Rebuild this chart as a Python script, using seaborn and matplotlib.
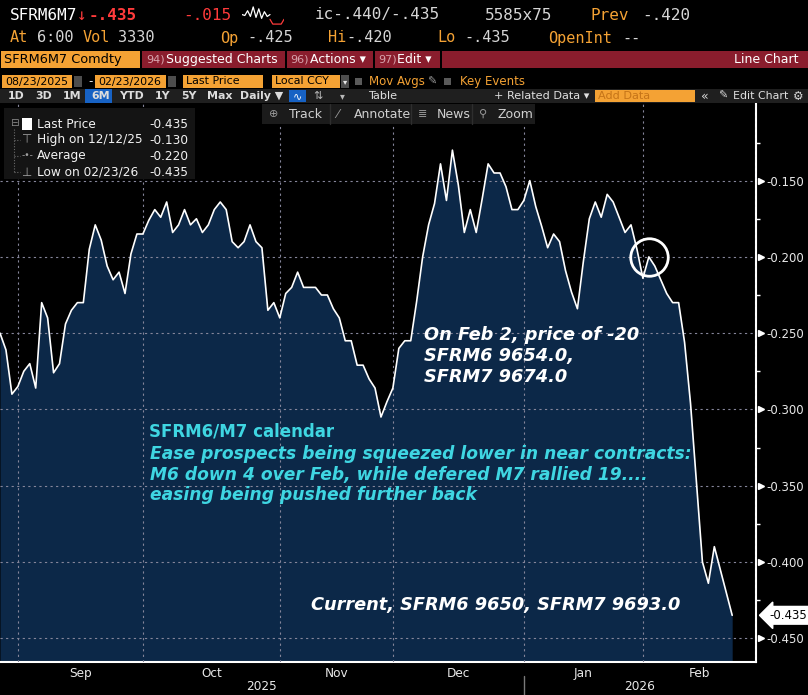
import numpy as np
import pandas as pd
import matplotlib
matplotlib.use("Agg")
import matplotlib.pyplot as plt
import matplotlib.patches as mpatches
from matplotlib.lines import Line2D
from matplotlib.ticker import FormatStrFormatter
import seaborn as sns

W, H = 808, 695

# SFRM6/M7 calendar spread, daily values (one list per month)
aug_vals = [-0.250, -0.261, -0.290, -0.285]
sep_vals = [-0.275, -0.270, -0.286, -0.230, -0.240, -0.276, -0.270, -0.244, -0.235, -0.230,
            -0.230, -0.195, -0.179, -0.189, -0.206, -0.215, -0.210, -0.224, -0.198, -0.185, -0.185]
oct_vals = [-0.176, -0.169, -0.174, -0.164, -0.184, -0.179, -0.169, -0.179, -0.175, -0.184,
            -0.179, -0.169, -0.164, -0.169, -0.190, -0.194, -0.190, -0.179, -0.190, -0.194,
            -0.235, -0.230, -0.240]
nov_vals = [-0.224, -0.220, -0.210, -0.220, -0.220, -0.220, -0.225, -0.225, -0.234, -0.240,
            -0.255, -0.255, -0.271, -0.271, -0.280, -0.286, -0.305, -0.295, -0.286]
dec_vals = [-0.260, -0.255, -0.255, -0.229, -0.200, -0.179, -0.165, -0.139, -0.163, -0.130,
            -0.153, -0.184, -0.169, -0.184, -0.162, -0.139, -0.145, -0.145, -0.154, -0.169,
            -0.169, -0.163]
jan_vals = [-0.150, -0.167, -0.180, -0.194, -0.185, -0.190, -0.209, -0.223, -0.234, -0.203,
            -0.175, -0.164, -0.174, -0.159, -0.164, -0.174, -0.184, -0.179, -0.195, -0.214]
feb_vals = [-0.200, -0.206, -0.215, -0.224, -0.230, -0.230, -0.256, -0.296, -0.348, -0.400,
            -0.414, -0.390, -0.405, -0.420, -0.435]

# trading calendar of the x axis (axis runs to the end of Feb)
first_day, last_axis_day = "2025-08-26", "2026-02-27"
holidays = ["2025-09-01", "2025-11-27", "2025-12-25", "2026-01-01", "2026-01-19", "2026-02-16"]

month_labels = ["Sep", "Oct", "Nov", "Dec", "Jan", "Feb"]
year_labels = ["2025", "2026"]
major_ticks = [-0.150, -0.200, -0.250, -0.300, -0.350, -0.400, -0.450]
minor_ticks = [-0.125, -0.175, -0.225, -0.275, -0.325, -0.375, -0.425]
y_range = (-0.4653, -0.0991)

legend_labels = ["Last Price", "High on 12/12/25", "Average", "Low on 02/23/26"]
legend_values = ["-0.435", "-0.130", "-0.220", "-0.435"]
circled_day = "2026-02-02"

spark_white = [0.55, 0.5, 0.75, 0.45, 0.95, 0.4, 0.85, 0.35, 0.7, 0.45, 0.55]
spark_red = [0.3, 0.05, 0.05, 0.05, 0.05, 0.3]

ORANGE = "#f4a234"
WHITE = "#e8e8e8"
RED = "#ff3b3b"
NAVY = "#0c2848"
CYAN = "#3fd6e2"
MAROON = "#8a1d2d"
MONO = "DejaVu Sans Mono"

# ---- data frame on a trading-day axis
days = pd.bdate_range(first_day, last_axis_day)
days = days[~days.isin(pd.to_datetime(holidays))]
spread = aug_vals + sep_vals + oct_vals + nov_vals + dec_vals + jan_vals + feb_vals
df = pd.DataFrame({"date": days[:len(spread)], "value": spread})
df["pos"] = np.arange(len(df))
cal = pd.DataFrame({"date": days, "pos": np.arange(len(days))})
cal["month"] = cal["date"].dt.to_period("M")
month_ends = cal.groupby("month")["pos"].max().values
month_mid = (month_ends[:-1] + month_ends[1:]) / 2
year_split = cal.loc[cal["date"] < "2026-01-01", "pos"].max()
x_end = len(days) - 1

sns.set_style("dark", {"axes.facecolor": "black", "figure.facecolor": "black"})
plt.rcParams["font.family"] = ["DejaVu Sans"]

fig = plt.figure(figsize=(W / 100, H / 100), dpi=100)
fig.patch.set_facecolor("black")


def fx(x):
    return x / W


def fy(y):
    return 1 - y / H


def put(x, y, s, color=WHITE, size=9, family="DejaVu Sans", ha="left", va="center", **kw):
    return fig.text(fx(x), fy(y), s, color=color, fontsize=size, family=family,
                    ha=ha, va=va, **kw)


def rect(x0, y0, x1, y1, color, **kw):
    fig.add_artist(mpatches.Rectangle((fx(x0), fy(y1)), (x1 - x0) / W, (y1 - y0) / H,
                                      transform=fig.transFigure, facecolor=color,
                                      edgecolor="none", **kw))


def vline(x, y0, y1, color, lw=1, ls="-"):
    fig.add_artist(Line2D([fx(x), fx(x)], [fy(y0), fy(y1)], color=color, lw=lw, ls=ls,
                          transform=fig.transFigure))


def hline(x0, x1, y, color, lw=1, ls="-"):
    fig.add_artist(Line2D([fx(x0), fx(x1)], [fy(y), fy(y)], color=color, lw=lw, ls=ls,
                          transform=fig.transFigure))


# ---- main chart
ax = fig.add_axes([0, fy(661.5), 756 / W, (661.5 - 103) / H])
ax.set_facecolor("black")
ax.fill_between(df["pos"], df["value"], y_range[0], color=NAVY, lw=0, zorder=1)
sns.lineplot(data=df, x="pos", y="value", ax=ax, color="white", lw=1.2, zorder=3)
ax.set_xlim(0, x_end)
ax.set_ylim(*y_range)
ax.set_xlabel("")
ax.set_ylabel("")
ax.set_axisbelow(False)

ax.yaxis.tick_right()
ax.set_yticks(major_ticks)
ax.set_yticks(minor_ticks, minor=True)
ax.yaxis.set_major_formatter(FormatStrFormatter("%.3f"))
ax.tick_params(axis="y", which="major", length=0, pad=7.5, labelsize=8.5, labelcolor=WHITE)
ax.tick_params(axis="y", which="minor", length=3, width=1, color="white", direction="out")
ax.set_xticks(month_ends)
ax.set_xticklabels([])
ax.set_xticks(month_mid, minor=True)
ax.set_xticklabels(month_labels, minor=True)
ax.tick_params(axis="x", which="major", length=4, width=1, color="white", direction="out")
ax.tick_params(axis="x", which="minor", length=0, pad=4, labelsize=8.7, labelcolor=WHITE)
ax.grid(which="major", color="#85859a", ls=(0, (2, 3)), lw=0.8, zorder=2)
ax.grid(which="minor", visible=False)
for side in ["left", "top"]:
    ax.spines[side].set_visible(False)
for side in ["right", "bottom"]:
    ax.spines[side].set_color("white")
    ax.spines[side].set_linewidth(1.5)

# little flags at the major ticks
ax.plot([1 + 5 / 756] * len(major_ticks), major_ticks, ls="none", marker=">", ms=5,
        color="white", transform=ax.get_yaxis_transform(), clip_on=False)

# last price tag
last = df["value"].iloc[-1]
ax.text(1 + 13 / 756, last, f"{last:.3f}", transform=ax.get_yaxis_transform(), ha="left",
        va="center", fontsize=8.5, color="black", clip_on=False,
        bbox=dict(boxstyle="larrow,pad=0.2", fc="white", ec="white"))

# circle on Feb 2
pt = df[df["date"] == circled_day].iloc[0]
ax.plot(pt["pos"], pt["value"], marker="o", ms=27, mfc="none", mec="white", mew=2, zorder=4)

# year row under the month labels
xt = ax.get_xaxis_transform()
ax.text(year_split / 2, -0.044, year_labels[0], transform=xt, ha="center", va="center",
        fontsize=8.7, color=WHITE)
ax.text((year_split + x_end) / 2, -0.044, year_labels[1], transform=xt, ha="center",
        va="center", fontsize=8.7, color=WHITE)
ax.plot([year_split, year_split], [-0.026, -0.065], transform=xt, color="#7a7a7a", lw=1,
        clip_on=False)

# ---- annotations
bi = dict(weight="bold", style="italic")
put(424, 340, "On Feb 2, price of -20", "white", 12.8, va="baseline", **bi)
put(424, 361, "SFRM6 9654.0,", "white", 12.8, va="baseline", **bi)
put(424, 382, "SFRM7 9674.0", "white", 12.8, va="baseline", **bi)

put(149, 436, "SFRM6/M7 calendar", CYAN, 12, va="baseline", weight="bold")
put(150, 459, "Ease prospects being squeezed lower in near contracts:", CYAN, 12.3,
    va="baseline", **bi)
put(150, 480, "M6 down 4 over Feb, while defered M7 rallied 19....", CYAN, 12.3,
    va="baseline", **bi)
put(150, 500, "easing being pushed further back", CYAN, 12.3, va="baseline", **bi)

put(311, 610, "Current, SFRM6 9650, SFRM7 9693.0", "white", 12.8, va="baseline", **bi)

# ---- terminal header, row 1
put(10, 15, "SFRM6M7", "white", 11.5, MONO)
put(77, 15, "↓", RED, 11.5, MONO)
put(89, 15, "-.435", RED, 11.5, MONO, weight="bold")
put(183, 15, "-.015", RED, 11.5, MONO)
put(315, 15, "ic-.440/-.435", "#d6d6d6", 11.5, MONO)
put(485, 15, "5585x75", "#d6d6d6", 11.5, MONO)
put(591, 15, "Prev", ORANGE, 11.5, MONO)
put(642, 15, "-.420", "#d6d6d6", 11.5, MONO)

sp = fig.add_axes([fx(242), fy(26), 42 / W, 21 / H])
sp.set_facecolor("black")
sp.plot(range(len(spark_white)), spark_white, color="white", lw=0.9)
sp.plot(range(len(spark_white) - 1, len(spark_white) - 1 + len(spark_red)), spark_red,
        color=RED, lw=0.9)
sp.set_xlim(0, len(spark_white) + len(spark_red) - 2)
sp.set_ylim(-0.05, 1.05)
sp.axis("off")

# row 2
for x, s, c in [(10, "At", ORANGE), (37, "6:00", "#d6d6d6"), (83, "Vol", ORANGE),
                (118, "3330", "#d6d6d6"), (220, "Op", ORANGE), (247, "-.425", "#d6d6d6"),
                (328, "Hi", ORANGE), (346, "-.420", "#d6d6d6"), (437, "Lo", ORANGE),
                (464, "-.435", "#d6d6d6"), (548, "OpenInt", ORANGE), (622, "--", "#d6d6d6")]:
    put(x, 38, s, c, 11, MONO)

# row 3: security box and red menu bar
rect(1, 51, 140, 68, ORANGE)
put(4, 59.5, "SFRM6M7 Comdty", "black", 9.3)
rect(142, 51, 285, 68, MAROON)
rect(287, 51, 373, 68, MAROON)
rect(375, 51, 440, 68, MAROON)
rect(442, 51, 808, 68, MAROON)
put(146, 59.5, "94)", "#d8a4ad", 8)
put(166, 59.5, "Suggested Charts", "white", 9)
put(290, 59.5, "96)", "#d8a4ad", 8)
put(310, 59.5, "Actions ▾", "white", 9)
put(378, 59.5, "97)", "#d8a4ad", 8)
put(397, 59.5, "Edit ▾", "white", 9)
put(798, 59.5, "Line Chart", "white", 9, ha="right")

# row 4: dates and options
for x0, x1, s in [(2, 72, "08/23/2025"), (95, 166, "02/23/2026"), (183, 263, "Last Price"),
                  (272, 340, "Local CCY")]:
    rect(x0, 75, x1, 88, ORANGE)
    put(x0 + 3, 81.5, s, "black", 7.9)
rect(74, 76, 82, 87, "#4d4d4d")
rect(168, 76, 176, 87, "#4d4d4d")
put(88, 81.5, "-", WHITE, 8.5)
rect(341, 75, 349, 88, "#4d4d4d")
put(345, 81.5, "▾", WHITE, 6, ha="center")
rect(355, 78, 362, 85, "#5a5a5a")
put(369, 81.5, "Mov Avgs", ORANGE, 8.5)
put(427, 81.5, "✎", "#9a9a9a", 8)
rect(444, 78, 451, 85, "#5a5a5a")
put(460, 81.5, "Key Events", ORANGE, 8.5)

# row 5: range buttons and tools
rect(0, 89, 808, 103, "#1f1f1f")
rect(85, 89, 112, 103, "#1762c4")
for x, s in [(8, "1D"), (35, "3D"), (63, "1M"), (91, "6M"), (119, "YTD"), (155, "1Y"),
             (181, "5Y"), (207, "Max"), (240, "Daily ▼")]:
    put(x, 96, s, "#dcdcdc", 7.9, weight="bold")
rect(289, 90, 306, 102, "#1762c4")
put(297.5, 96, "∿", "white", 8, ha="center")
put(313, 96, "⇅", "#b8b8b8", 8)
put(340, 96, "▾", "#b8b8b8", 7)
put(368, 96, "Table", "#e0e0e0", 8.1)
put(494, 96, "+ Related Data ▾", "#e0e0e0", 8.1)
rect(595, 90, 695, 102, ORANGE)
put(598, 96, "Add Data", "#c57418", 8.1)
put(701, 96, "«", "#d8d8d8", 9)
put(718, 96, "✎", "#d8d8d8", 8)
put(733, 96, "Edit Chart", "#e0e0e0", 7.9)
put(798, 96, "⚙", "#d8d8d8", 8.5, ha="center")

# row 6: chart toolbar
rect(262, 104, 535, 124, "#1b1b1b")
for x in [330, 411, 472]:
    vline(x, 104, 124, "#2e2e2e")
put(269, 114, "⊕", "#9a9a9a", 8)
put(289, 114, "Track", "#d0d0d0", 9)
put(336, 114, "⁄", "#9a9a9a", 9)
put(354, 114, "Annotate", "#d0d0d0", 9)
put(418, 114, "≣", "#9a9a9a", 8)
put(437, 114, "News", "#d0d0d0", 9)
put(479, 114, "⚲", "#9a9a9a", 8)
put(498, 114, "Zoom", "#d0d0d0", 9)

# ---- legend box
rect(4, 108, 195, 179, "#141414")
leg_y = [124, 140, 156, 172]
for yy, lab, val in zip(leg_y, legend_labels, legend_values):
    put(37, yy, lab, "#f2f2f2", 8.7)
    put(188, yy, val, "#f2f2f2", 8.7, ha="right")
rect(22, 118, 32, 130, "white")
vline(14, 129, 172, "#6a6a6a", lw=0.8, ls=(0, (1, 1.5)))
for yy in leg_y[1:]:
    hline(14, 20, yy, "#6a6a6a", lw=0.8, ls=(0, (1, 1.5)))
rect(10, 119, 18, 127, "#141414")
put(14, 123, "⊟", "#8a8a8a", 7.5, ha="center")
put(27, 140, "⊤", "#a0a0a0", 8.5, ha="center")
put(27, 156, "-•-", "#a0a0a0", 6.5, ha="center")
put(27, 172, "⊥", "#a0a0a0", 8.5, ha="center")

fig.savefig("out.png", dpi=100, facecolor="black")
